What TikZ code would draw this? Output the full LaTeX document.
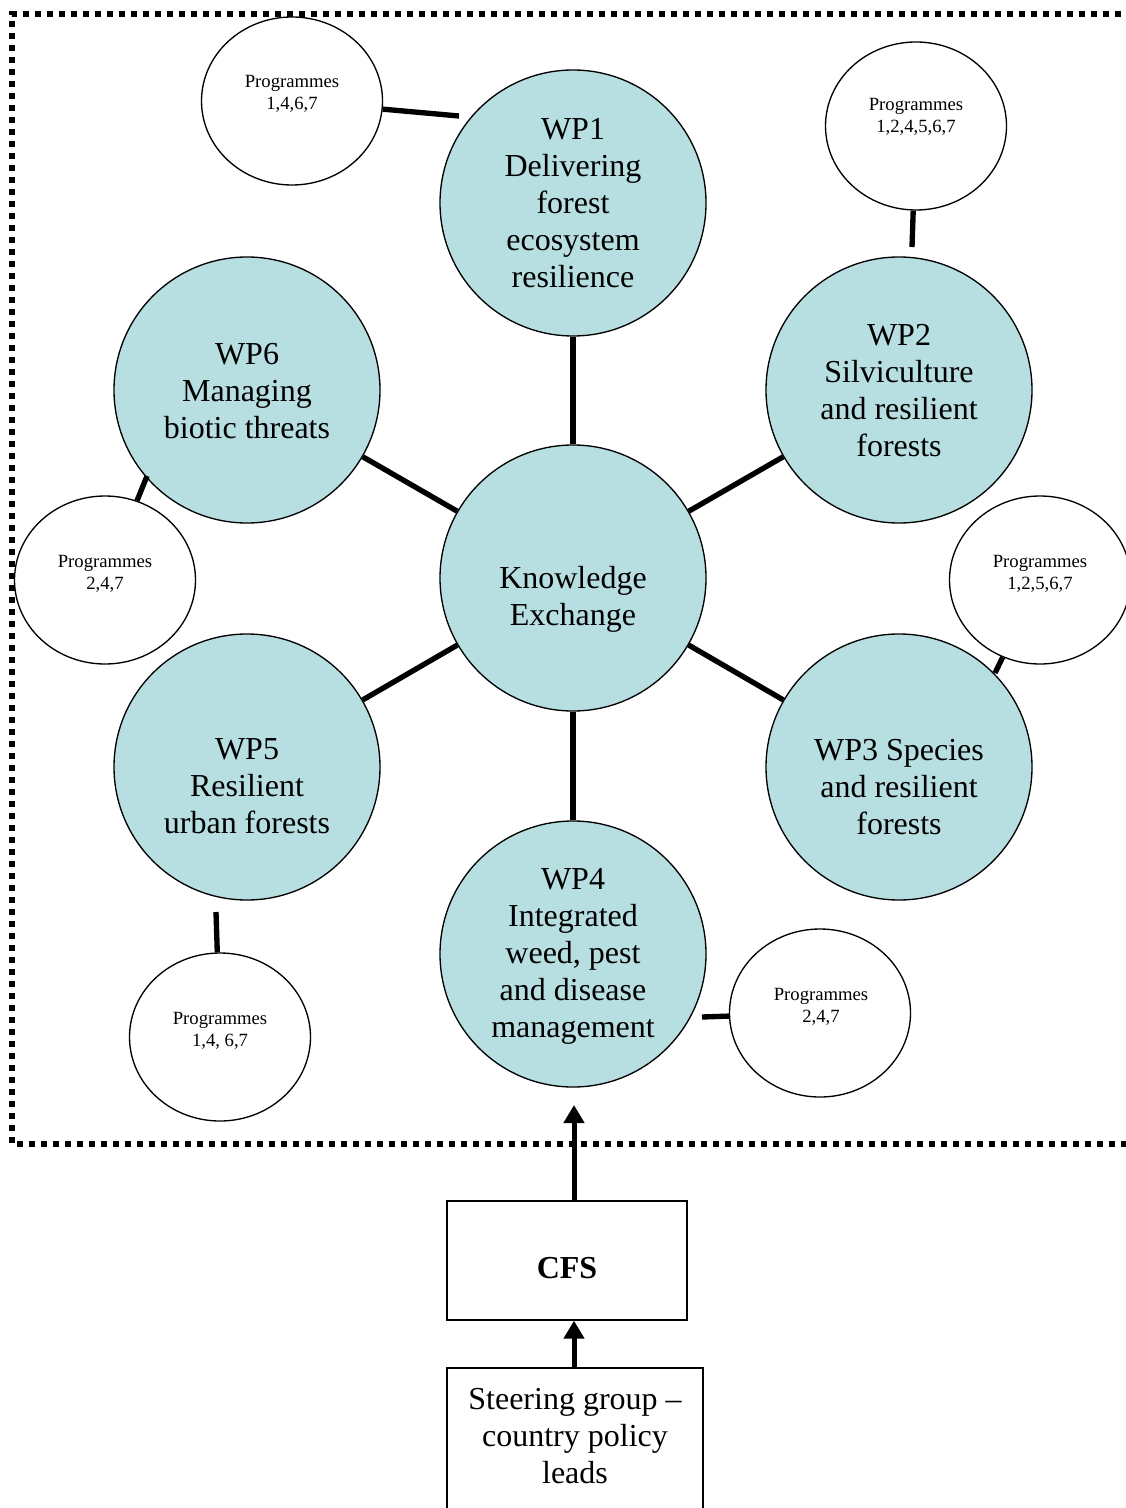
\documentclass[tikz,border=0pt]{standalone}
\usepackage{fontspec}
\setmainfont{Liberation Serif}
\usetikzlibrary{shapes.geometric,arrows.meta}
\definecolor{wpfill}{RGB}{183,222,225}
\begin{document}
\begin{tikzpicture}[x=0.75pt,y=-0.75pt,
  wpcirc/.style={circle,draw=black,line width=1pt,fill=wpfill,minimum size=199.5pt,inner sep=0pt},
  progell/.style={ellipse,draw=black,line width=1pt,fill=white,minimum width=135.75pt,minimum height=126pt,inner sep=0pt},
  bigtxt/.style={align=center,font=\fontsize{24pt}{27.75pt}\selectfont,inner sep=0pt},
  smalltxt/.style={align=center,font=\fontsize{14pt}{16.5pt}\selectfont,inner sep=0pt},
  conn/.style={line width=4pt},
  boxnode/.style={rectangle,draw=black,line width=1pt,fill=white,inner sep=0pt},
  arr/.style={line width=3.75pt,-{Triangle[width=15pt,length=13.5pt]}},
  dotframe/.style={line width=4.2pt,dash pattern=on 4.2pt off 4.8pt}
]
\path[use as bounding box] (0,0) rectangle (1126,1508);
\clip (0,0) rectangle (1126,1508);

% dotted frame
\draw[dotframe] (1145,14) -- (12,14) -- (12,1144) -- (1145,1144);

% work package circles
\node[wpcirc] (ke)  at (573,578) {};
\node[wpcirc] (wp1) at (573,203) {};
\node[wpcirc] (wp2) at (899,390) {};
\node[wpcirc] (wp3) at (899,767) {};
\node[wpcirc] (wp4) at (573,954) {};
\node[wpcirc] (wp5) at (247,767) {};
\node[wpcirc] (wp6) at (247,390) {};

% programme ellipses
\node[progell] (p1) at (292,101) {};
\node[progell] (p2) at (916,126) {};
\node[progell] (p3) at (1040,580) {};
\node[progell] (p6) at (105,580) {};
\node[progell] (p5) at (220,1037) {};
\node[progell] (p4) at (820,1013) {};

% connectors centre
\draw[conn] (ke) -- (wp1);
\draw[conn] (ke) -- (wp2);
\draw[conn] (ke) -- (wp3);
\draw[conn] (ke) -- (wp4);
\draw[conn] (ke) -- (wp5);
\draw[conn] (ke) -- (wp6);

% connectors programmes
\coordinate (c1) at (459,116);
\coordinate (c2) at (912,247);
\coordinate (c3) at (995,673);
\coordinate (c6) at (147,476);
\coordinate (c5) at (216,912);
\coordinate (c4) at (702,1017);
\draw[conn] (p1) -- (c1);
\draw[conn] (p2) -- (c2);
\draw[conn] (p3) -- (c3);
\draw[conn] (p6) -- (c6);
\draw[conn] (p5) -- (c5);
\draw[conn] (p4) -- (c4);

% texts
\node[bigtxt] (wp1t) at (573,203) {WP1\\Delivering\\forest\\ecosystem\\resilience};
\node[bigtxt] (wp2t) at (899,391) {WP2\\Silviculture\\and resilient\\forests};
\node[bigtxt] (wp3t) at (899,787) {WP3 Species\\and resilient\\forests};
\node[bigtxt] (wp4t) at (573,956) {WP4\\Integrated\\weed, pest\\and disease\\management};
\node[bigtxt] (wp5t) at (247,786) {WP5\\Resilient\\urban forests};
\node[bigtxt] (wp6t) at (247,391) {WP6\\Managing\\biotic threats};
\node[bigtxt] (ket)  at (573,599) {Knowledge\\Exchange};

\node[smalltxt] (p1t) at (292,94)  {Programmes\\1,4,6,7};
\node[smalltxt] (p2t) at (916,117) {Programmes\\1,2,4,5,6,7};
\node[smalltxt] (p3t) at (1040,574) {Programmes\\1,2,5,6,7};
\node[smalltxt] (p6t) at (105,574) {Programmes\\2,4,7};
\node[smalltxt] (p5t) at (220,1031) {Programmes\\1,4, 6,7};
\node[smalltxt] (p4t) at (821,1007) {Programmes\\2,4,7};

% boxes
\node[boxnode,minimum width=180pt,minimum height=89.25pt] (cfs) at (567,1260.5) {};
\node[boxnode,minimum width=192pt,minimum height=135pt] (sg) at (575,1458) {};
\node[bigtxt,font=\fontsize{24pt}{27.75pt}\selectfont\bfseries] (cfst) at (567,1268) {CFS};
\node[bigtxt] (sgt) at (575,1436) {Steering group --\\country policy\\leads};

% arrows
\coordinate (a1tip) at (574,1105);
\draw[arr] (a1tip |- cfs.north) -- (a1tip);
\draw[arr] (sg.north -| a1tip) -- (a1tip |- cfs.south);
\end{tikzpicture}
\end{document}
